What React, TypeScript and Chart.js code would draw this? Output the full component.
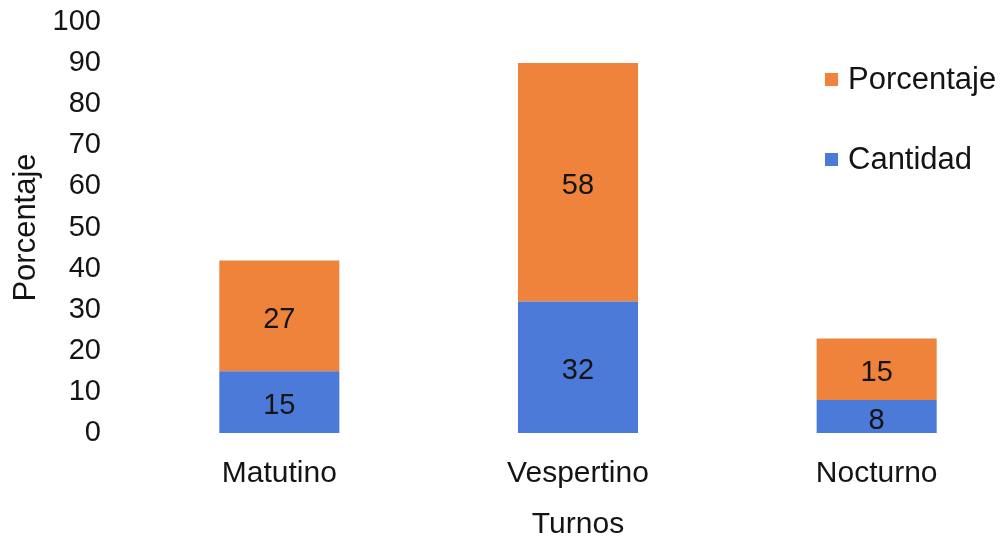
import { useEffect, useRef } from "react";
import { Chart, registerables } from "chart.js";

Chart.register(...registerables);

const categories = ["Matutino", "Vespertino", "Nocturno"];
const cantidadValues = [15, 32, 8];
const porcentajeValues = [27, 58, 15];
const seriesNames = ["Cantidad", "Porcentaje"];
const seriesColors = ["#4B7AD8", "#F0833B"];
const yAxisMin = 0;
const yAxisMax = 100;
const yAxisStep = 10;
const xTitle = "Turnos";
const yTitle = "Porcentaje";

const FONT = "'Liberation Sans', Arial, Helvetica, sans-serif";
const TEXT_COLOR = "#141414";

const valueLabels = {
  id: "valueLabels",
  afterDatasetsDraw(chart: any) {
    const ctx = chart.ctx;
    ctx.save();
    ctx.font = `29px ${FONT}`;
    ctx.fillStyle = TEXT_COLOR;
    ctx.textAlign = "center";
    ctx.textBaseline = "middle";
    chart.data.datasets.forEach((ds: any, i: number) => {
      const meta = chart.getDatasetMeta(i);
      meta.data.forEach((el: any, j: number) => {
        const p = el.getCenterPoint();
        ctx.fillText(String(ds.data[j]), p.x, p.y + 4);
      });
    });
    ctx.restore();
  },
};

const sideLegend = {
  id: "sideLegend",
  afterDraw(chart: any) {
    const ctx = chart.ctx;
    const items = chart.data.datasets
      .map((ds: any) => ({ text: ds.label, color: ds.backgroundColor }))
      .reverse();
    ctx.save();
    ctx.font = `31px ${FONT}`;
    ctx.textBaseline = "middle";
    ctx.textAlign = "left";
    items.forEach((it: any, k: number) => {
      const cy = 79 + k * 80;
      ctx.fillStyle = it.color;
      ctx.fillRect(825, cy - 6, 13, 13);
      ctx.fillStyle = TEXT_COLOR;
      ctx.fillText(it.text, 848, cy + 1);
    });
    ctx.restore();
  },
};

export default function App() {
  const canvasRef = useRef<HTMLCanvasElement | null>(null);

  useEffect(() => {
    if (!canvasRef.current) return;
    const chart = new Chart(canvasRef.current, {
      type: "bar",
      data: {
        labels: categories,
        datasets: [
          {
            label: seriesNames[0],
            data: cantidadValues,
            backgroundColor: seriesColors[0],
            borderWidth: 0,
            barPercentage: 0.402,
            categoryPercentage: 1,
          },
          {
            label: seriesNames[1],
            data: porcentajeValues,
            backgroundColor: seriesColors[1],
            borderWidth: 0,
            barPercentage: 0.402,
            categoryPercentage: 1,
          },
        ],
      },
      options: {
        animation: false,
        responsive: true,
        maintainAspectRatio: false,
        layout: { padding: { left: 8, right: 0, top: 22, bottom: 0 } },
        plugins: {
          legend: { display: false },
          tooltip: { enabled: false },
        },
        scales: {
          x: {
            stacked: true,
            grid: { display: false, drawTicks: false },
            border: { display: false },
            ticks: {
              color: TEXT_COLOR,
              font: { family: FONT, size: 30 },
              padding: 23,
              maxRotation: 0,
              autoSkip: false,
            },
            title: {
              display: true,
              text: xTitle,
              color: TEXT_COLOR,
              font: { family: FONT, size: 30 },
              padding: { top: 0, bottom: 0 },
            },
            afterFit: (scale: any) => {
              scale.height = 110;
            },
          },
          y: {
            stacked: true,
            min: yAxisMin,
            max: yAxisMax,
            grid: { display: false, drawTicks: false },
            border: { display: false },
            ticks: {
              stepSize: yAxisStep,
              color: TEXT_COLOR,
              font: { family: FONT, size: 29 },
              padding: 29,
            },
            title: {
              display: true,
              text: yTitle,
              color: TEXT_COLOR,
              font: { family: FONT, size: 31 },
              padding: { top: 0, bottom: 0 },
            },
            afterFit: (scale: any) => {
              scale.width = 122;
              scale.paddingTop = 0;
              scale.paddingBottom = 0;
            },
          },
        },
      },
      plugins: [valueLabels, sideLegend],
    });
    return () => chart.destroy();
  }, []);

  return (
    <div
      style={{
        position: "absolute",
        left: 0,
        top: 0,
        width: 1006,
        height: 543,
        overflow: "hidden",
        background: "#ffffff",
      }}
    >
      <div style={{ position: "relative", width: 1026, height: 543 }}>
        <canvas ref={canvasRef} />
      </div>
    </div>
  );
}
